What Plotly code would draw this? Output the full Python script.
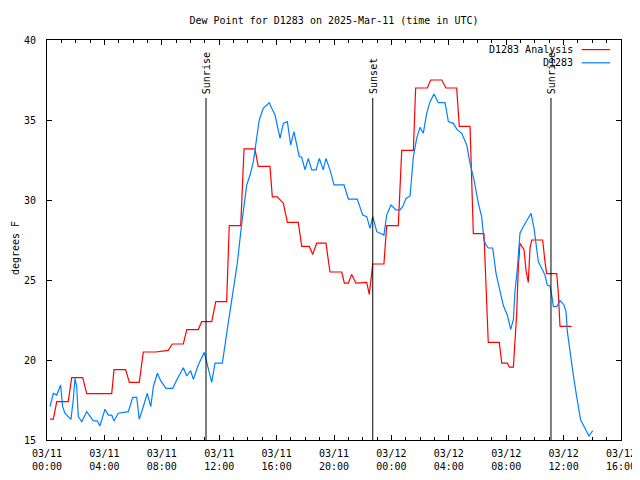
import pandas as pd
import plotly.graph_objects as go

BASE = pd.Timestamp("2025-03-11 00:00")

# Analysis (red) — hours since 03/11 00:00 UTC, dew point degF
analysis_hours = [0.21, 0.44, 0.68, 1.48, 1.72, 2.49, 2.77, 3.57, 4.51, 4.67, 5.48, 5.74, 6.43, 6.71,
                  7.57, 8.45, 8.73, 9.50, 9.74, 10.54, 10.78, 11.48, 11.76, 12.52, 12.70, 13.50, 13.73,
                  14.49, 14.72, 15.54, 15.70, 16.05, 16.47, 16.75, 17.51, 17.75, 18.28, 18.52, 18.79,
                  19.44, 19.72, 20.54, 20.72, 21.00, 21.23, 21.53, 22.28, 22.46, 22.63, 22.70, 23.48,
                  23.67, 24.48, 24.72, 25.53, 25.69, 26.50, 26.74, 27.51, 27.80, 28.55, 28.73, 29.48,
                  29.71, 30.45, 30.75, 31.52, 31.69, 32.08, 32.22, 32.50, 32.61, 32.73, 32.84, 32.96,
                  33.24, 33.38, 33.54, 33.66, 33.78, 34.54, 34.70, 34.82, 35.52, 35.63, 35.75, 36.56]
analysis_values = [16.3, 16.3, 17.4, 17.4, 18.9, 18.9, 17.9, 17.9, 17.9, 19.4, 19.4, 18.6, 18.6, 20.5,
                   20.5, 20.6, 21.0, 21.0, 21.9, 21.9, 22.4, 22.4, 23.65, 23.65, 28.4, 28.4, 33.2,
                   33.2, 32.1, 32.1, 30.2, 30.2, 29.8, 28.6, 28.6, 27.1, 27.1, 26.6, 27.3,
                   27.3, 25.5, 25.5, 24.8, 24.8, 25.35, 24.8, 24.85, 24.1, 25.3, 26.0, 26.0,
                   28.4, 28.4, 33.1, 33.1, 37.0, 37.0, 37.5, 37.5, 37.0, 37.0, 34.6, 34.6,
                   27.9, 27.9, 21.1, 21.1, 19.8, 19.8, 19.55, 19.55, 21.1, 22.9, 25.7, 27.3,
                   26.9, 25.6, 24.85, 27.0, 27.5, 27.5, 26.15, 25.4, 25.4, 24.2, 22.1, 22.1]

# Observed (blue)
obs_hours = [0.21, 0.44, 0.68, 0.79, 0.95, 1.09, 1.25, 1.48, 1.67, 1.83, 1.95, 2.07, 2.18, 2.42, 2.77,
             3.23, 3.51, 3.69, 4.04, 4.27, 4.51, 4.67, 4.97, 5.67, 5.97, 6.25, 6.43, 6.71, 6.99, 7.23,
             7.41, 7.69, 7.92, 8.29, 8.76, 9.04, 9.50, 9.74, 10.01, 10.20, 10.54, 10.96, 11.13, 11.31,
             11.48, 11.71, 12.22, 12.63, 12.98, 13.26, 13.57, 13.92, 14.15, 14.38, 14.56, 14.79,
             15.07, 15.49, 15.66, 15.89, 16.24, 16.47, 16.75, 16.98, 17.21, 17.33, 17.58, 17.75,
             17.98, 18.21, 18.45, 18.75, 18.98, 19.25, 19.44, 19.72, 20.00, 20.70, 21.00, 21.62,
             22.00, 22.28, 22.51, 22.70, 22.98, 23.48, 23.67, 23.97, 24.32, 24.60, 24.79, 25.02,
             25.30, 25.53, 25.76, 25.99, 26.22, 26.46, 26.69, 26.97, 27.27, 27.74, 27.97, 28.31,
             28.59, 28.90, 29.25, 29.48, 29.76, 30.06, 30.29, 30.45, 30.59, 30.75, 31.06, 31.29,
             31.57, 31.80, 32.08, 32.31, 32.50, 32.61, 32.77, 32.96, 33.19, 33.43, 33.73, 33.94,
             34.13, 34.24, 34.47, 34.70, 34.86, 35.05, 35.17, 35.29, 35.52, 35.75, 36.03, 36.17,
             36.26, 36.45, 36.68, 36.91, 37.19, 37.49, 37.77, 38.03]
obs_values = [17.08, 17.92, 17.81, 18.1, 18.44, 17.08, 16.67, 16.46, 16.29, 17.5, 18.85, 18.33, 16.46,
              16.15, 16.77, 16.19, 16.19, 15.88, 16.92, 16.56, 16.56, 16.19, 16.67, 16.77, 17.67, 17.67,
              16.29, 17.08, 17.92, 17.08, 18.33, 19.17, 18.71, 18.23, 18.23, 18.75, 19.52, 19.0, 19.33,
              18.79, 19.69, 20.48, 19.9, 19.17, 18.6, 19.8, 19.8, 22.3, 24.4, 26.04, 28.54, 30.94,
              31.56, 32.4, 33.54, 35.0, 35.73, 36.08, 35.73, 35.31, 33.85, 34.79, 34.9, 33.44, 34.27,
              33.75, 32.71, 32.67, 31.88, 32.6, 31.88, 31.88, 32.6, 31.88, 32.6, 31.88, 30.94, 30.94,
              30.06, 30.06, 29.06, 28.96, 28.23, 28.96, 28.02, 27.81, 29.06, 29.69, 29.38, 29.38,
              29.58, 30.1, 30.25, 32.7, 33.85, 34.54, 34.17, 35.42, 36.15, 36.63, 36.08, 36.08, 34.9,
              34.79, 34.38, 34.17, 33.44, 32.29, 31.25, 29.79, 28.96, 27.5, 27.19, 27.0, 27.0, 25.42,
              24.38, 23.4, 22.8, 21.92, 22.5, 24.27, 25.63, 27.92, 28.33, 28.71, 29.17, 28.23, 27.08,
              26.15, 25.73, 25.31, 24.69, 24.63, 24.06, 23.33, 23.33, 23.71, 23.44, 23.02, 21.77,
              20.42, 19.04, 17.71, 16.25, 15.73, 15.25, 15.58]

event_hours = [11.08, 22.70, 35.12]
event_labels = ["Sunrise", "Sunset", "Sunrise"]

series_names = ["D1283 Analysis", "D1283"]
series_colors = ["#ff0000", "#0080ff"]

title_text = "Dew Point for D1283 on 2025-Mar-11 (time in UTC)"
y_title = "degrees F"


def to_time(hours):
    return BASE + pd.to_timedelta(pd.Series(hours), unit="h")


FONT = dict(family="DejaVu Sans Mono, Liberation Mono, monospace", size=10, color="black")

# the page body adds an ~8px margin; the figure is sized to fill the rest of the window
W, H = 632, 472
ML = 39

fig = go.Figure()
fig.add_trace(go.Scatter(x=to_time(analysis_hours), y=analysis_values, mode="lines",
                         name=series_names[0], line=dict(color=series_colors[0], width=1.2)))
fig.add_trace(go.Scatter(x=to_time(obs_hours), y=obs_values, mode="lines",
                         name=series_names[1], line=dict(color=series_colors[1], width=1.2)))

ev_times = to_time(event_hours)
shapes = []
annotations = []
for t, lab in zip(ev_times, event_labels):
    shapes.append(dict(type="line", xref="x", yref="paper", x0=t, x1=t, y0=0, y1=0.855,
                       line=dict(color="black", width=1)))
    annotations.append(dict(x=t, xref="x", y=0.862, yref="paper", text=lab, textangle=-90,
                            showarrow=False, xanchor="center", yanchor="bottom", font=FONT,
                            borderpad=0))

# custom legend (right-aligned text with line sample)
leg_y = [0.976, 0.943]
for name, col, yy in zip(series_names, series_colors, leg_y):
    annotations.append(dict(x=0.918, xref="paper", y=yy, yref="paper", text=name, showarrow=False,
                            xanchor="right", yanchor="middle", font=FONT, borderpad=0))
    shapes.append(dict(type="line", xref="paper", yref="paper", x0=0.9315, x1=0.981, y0=yy, y1=yy,
                       line=dict(color=col, width=1.2)))

annotations.append(dict(x=-ML / 574 + 0.001, xref="paper", y=0.48, yref="paper", text=y_title,
                        textangle=-90, showarrow=False, xanchor="left", yanchor="middle",
                        font=FONT, borderpad=0))

fig.update_layout(
    width=W, height=H,
    margin=dict(l=ML, r=19, t=32, b=40, autoexpand=False),
    paper_bgcolor="white", plot_bgcolor="white",
    showlegend=False,
    font=FONT,
    title=dict(text=title_text, x=0.5, xref="paper", xanchor="center", y=1 - 12 / H,
               yanchor="middle", yref="container", font=FONT),
    shapes=shapes,
    annotations=annotations,
)
fig.update_xaxes(
    type="date", automargin=False,
    range=[BASE, BASE + pd.Timedelta(hours=40)],
    tick0=BASE, dtick=4 * 3600 * 1000,
    tickformat="%m/%d<br>%H:%M",
    ticks="inside", ticklen=5, tickcolor="black",
    minor=dict(dtick=3600 * 1000, ticks="inside", ticklen=3, tickcolor="black", showgrid=False),
    showline=True, linecolor="black", linewidth=1, mirror="ticks",
    showgrid=False, zeroline=False, tickfont=FONT, ticklabelstandoff=4,
)
fig.update_yaxes(
    automargin=False,
    range=[15, 40], dtick=5, tick0=15,
    ticks="inside", ticklen=5, tickcolor="black",
    showline=True, linecolor="black", linewidth=1, mirror="ticks",
    showgrid=False, zeroline=False, tickfont=FONT, ticklabelstandoff=8,
)

fig.write_html("out.html")
